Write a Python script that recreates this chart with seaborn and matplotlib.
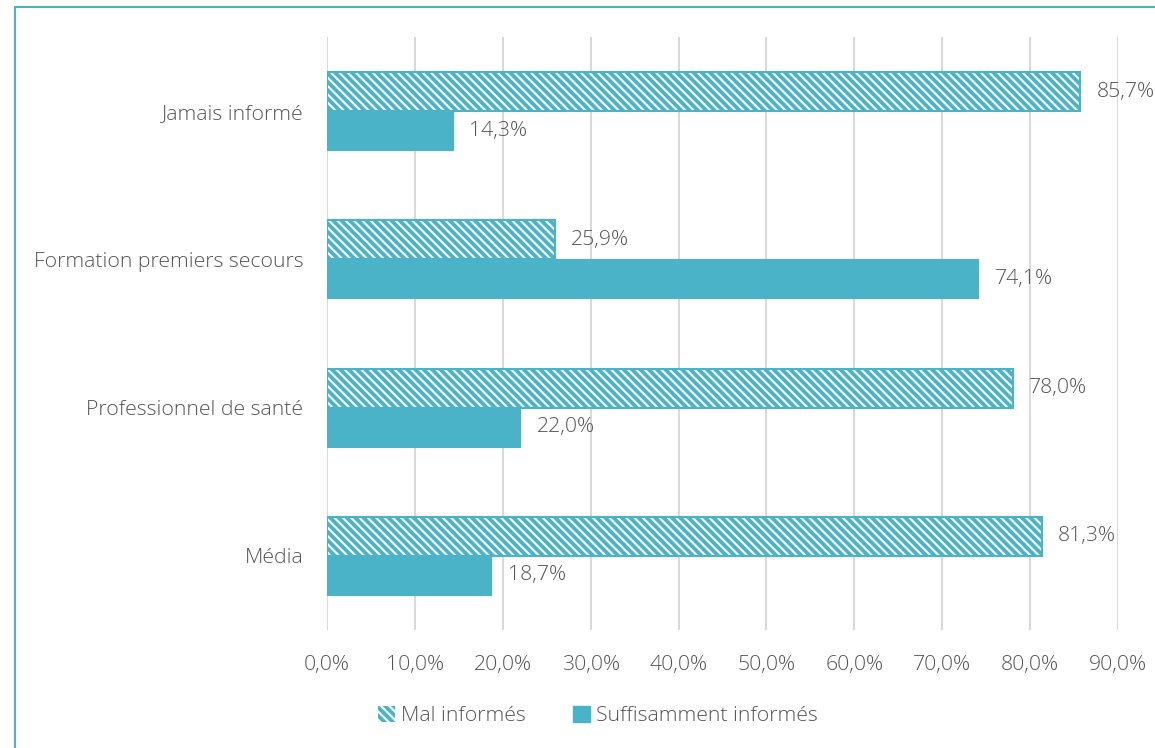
import numpy as np
import pandas as pd
import matplotlib.pyplot as plt
import matplotlib.patches as mpatches
import seaborn as sns

# ---------------------------------------------------------------------------
# DONNÉES
# ---------------------------------------------------------------------------
SOURCES = ["Jamais informé", "Formation premiers secours",
           "Professionnel de santé", "Média"]
SERIES = ["Mal informés", "Suffisamment informés"]
MAL_INFORMES = [85.7, 25.9, 78.0, 81.3]
SUFFISAMMENT = [14.3, 74.1, 22.0, 18.7]
X_TICKS = [0, 10, 20, 30, 40, 50, 60, 70, 80, 90]

TEAL = "#4BB3C8"
TEXT = "#555555"
GRID = "#D9D9D9"
FS = 15.3

sns.set_style("white")
plt.rcParams["font.family"] = ["Open Sans", "DejaVu Sans"]
plt.rcParams["font.weight"] = "light"
plt.rcParams["hatch.linewidth"] = 1.5


def fr_pct(v):
    return f"{v:.1f}%".replace(".", ",")


df = pd.DataFrame({
    "source": SOURCES * 2,
    "serie": [SERIES[0]] * len(SOURCES) + [SERIES[1]] * len(SOURCES),
    "valeur": MAL_INFORMES + SUFFISAMMENT,
})

fig = plt.figure(figsize=(11.55, 7.48), dpi=100)
ax = fig.add_axes([327 / 1155, 1 - 630 / 748, (1118 - 327) / 1155, (630 - 37) / 748])

sns.barplot(data=df, y="source", x="valeur", hue="serie", order=SOURCES,
            hue_order=SERIES, orient="h", width=0.525, dodge=True,
            palette=[TEAL, TEAL], saturation=1, errorbar=None, ax=ax,
            legend=False, zorder=3)

n = len(SOURCES)
bars = ax.patches[:2 * n]
for i, bar in enumerate(bars):
    bar.set_facecolor(TEAL)
    if i < n:
        # barre hachurée : rayures blanches + contour turquoise
        bar.set_edgecolor("white")
        bar.set_hatch("\\\\\\\\")
        bar.set_linewidth(0)
        ax.add_patch(mpatches.Rectangle(bar.get_xy(), bar.get_width(),
                                        bar.get_height(), fill=False,
                                        edgecolor=TEAL, linewidth=1.5,
                                        zorder=4))
    else:
        bar.set_edgecolor(TEAL)
        bar.set_linewidth(0.8)
    ax.annotate(fr_pct(bar.get_width()),
                (bar.get_width(), bar.get_y() + bar.get_height() / 2),
                xytext=(12, 0), textcoords="offset points",
                ha="left", va="center", fontsize=FS, color=TEXT)

ax.set_xlim(0, 90)
ax.set_ylim(3.5, -0.5)
ax.set_xticks(X_TICKS)
ax.set_xticklabels([fr_pct(t) for t in X_TICKS])
ax.set_xlabel("")
ax.set_ylabel("")
ax.grid(axis="x", color=GRID, linewidth=1.5, zorder=0)
ax.grid(axis="y", visible=False)
ax.set_axisbelow(True)
for sp in ax.spines.values():
    sp.set_visible(False)
ax.tick_params(axis="x", length=0, pad=18, labelsize=FS, labelcolor=TEXT)
ax.tick_params(axis="y", length=0, pad=17, labelsize=FS, labelcolor=TEXT)

# Légende
h_mal = mpatches.Patch(facecolor=TEAL, edgecolor="white", hatch="\\\\\\\\",
                       linewidth=0)
h_suf = mpatches.Patch(facecolor=TEAL, edgecolor=TEAL)
fig.legend([h_mal, h_suf], SERIES, loc="center",
           bbox_to_anchor=(598 / 1155, 1 - 716 / 748), ncol=2, frameon=False,
           fontsize=FS, labelcolor=TEXT, handlelength=0.8, handleheight=0.8,
           handletextpad=0.3, columnspacing=2.2)

# Cadre (bords gauche et haut visibles)
fig.add_artist(mpatches.Rectangle((15 / 1155, -0.1), 1.2, 1 - 7 / 748 + 0.1,
                                  transform=fig.transFigure, fill=False,
                                  edgecolor=TEAL, linewidth=1.5))

fig.savefig("out.png", dpi=100)
